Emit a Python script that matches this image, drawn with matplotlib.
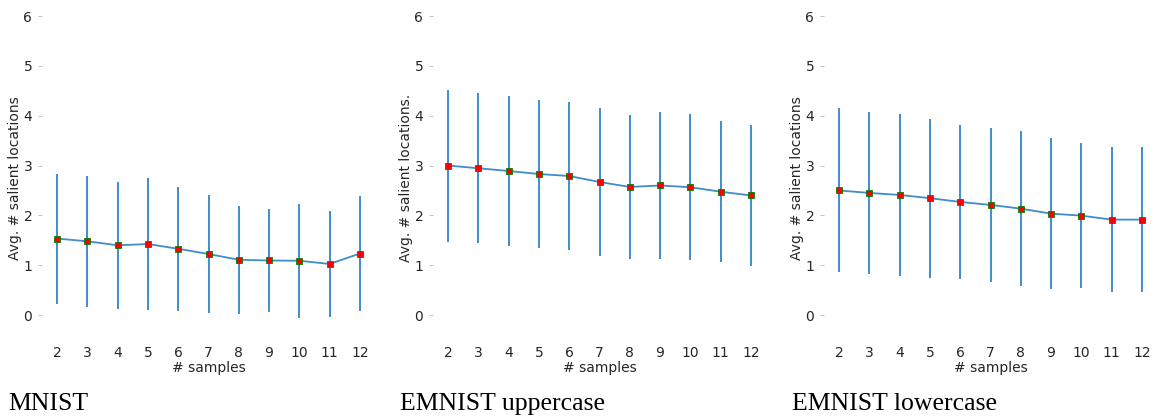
import matplotlib
matplotlib.use("Agg")
import matplotlib.pyplot as plt
import numpy as np

samples = [2, 3, 4, 5, 6, 7, 8, 9, 10, 11, 12]

mnist_mean = [1.535, 1.48, 1.40, 1.425, 1.33, 1.225, 1.11, 1.095, 1.09, 1.025, 1.235]
mnist_std = [1.305, 1.31, 1.27, 1.315, 1.24, 1.175, 1.08, 1.025, 1.14, 1.055, 1.145]

upper_mean = [3.0, 2.945, 2.89, 2.83, 2.79, 2.67, 2.57, 2.60, 2.565, 2.475, 2.40]
upper_std = [1.525, 1.505, 1.4975, 1.4825, 1.4875, 1.48, 1.4375, 1.4775, 1.465, 1.42, 1.4125]

lower_mean = [2.50, 2.45, 2.41, 2.345, 2.27, 2.21, 2.135, 2.035, 1.995, 1.915, 1.915]
lower_std = [1.645, 1.63, 1.62, 1.595, 1.545, 1.55, 1.55, 1.51, 1.4475, 1.455, 1.455]

titles = ["MNIST", "EMNIST uppercase", "EMNIST lowercase"]
ylabels = ["Avg. # salient locations", "Avg. # salient locations.", "Avg. # salient locations"]
yticks = [0, 1, 2, 3, 4, 5, 6]

fig = plt.figure(figsize=(11.61, 4.16), dpi=100)
lefts = [42 / 1161, 433 / 1161, 824 / 1161]
caption_x = [8 / 1161, 400 / 1161, 792 / 1161]
series = [(mnist_mean, mnist_std), (upper_mean, upper_std), (lower_mean, lower_std)]
text_color = "#262626"

for i in range(3):
    ax = fig.add_axes([lefts[i], 1 - 340 / 416, 333 / 1161, (340 - 16) / 416])
    m, s = series[i]
    ax.errorbar(samples, m, yerr=s, color="#3f8dc9", lw=1.3, elinewidth=1.4,
                marker="s", markersize=4, markerfacecolor="red",
                markeredgecolor="green", markeredgewidth=0.6)
    ax.set_xlim(1.5, 12.5)
    ax.set_ylim(-0.5, 6.0)
    ax.set_xticks(samples)
    ax.set_yticks(yticks)
    for sp in ax.spines.values():
        sp.set_visible(False)
    ax.tick_params(axis="x", length=0, pad=4, labelsize=10, labelcolor=text_color)
    ax.tick_params(axis="y", length=3, width=0.6, color="#bbbbbb", pad=4,
                   labelsize=10, labelcolor=text_color)
    ax.set_xlabel("# samples", fontsize=10, color=text_color, labelpad=1)
    ax.set_ylabel(ylabels[i], fontsize=10, color=text_color, labelpad=1)
    fig.text(caption_x[i], 12 / 416, titles[i], family="Liberation Serif",
             fontsize=18.5, color="black", va="center", ha="left")

fig.savefig("out.png", dpi=100)
